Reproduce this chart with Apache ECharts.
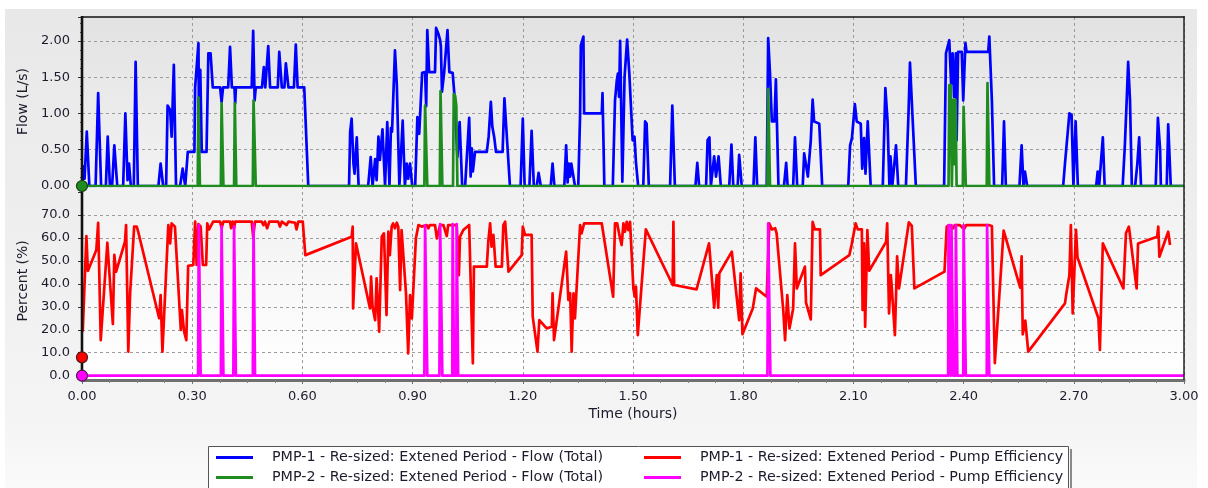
<!DOCTYPE html>
<html>
<head>
<meta charset="utf-8">
<script src="https://cdn.jsdelivr.net/npm/echarts@6.0.0/dist/echarts.min.js"></script>
<style>
  html, body { margin: 0; padding: 0; background: #ffffff; }
  #chart { width: 1208px; height: 488px; }
</style>
</head>
<body>
<div id="chart"></div>
<script>
// Pump flows (L/s) and efficiencies (%) over a 3-hour extended period run.
// Each entry is [time in hours, value].
const pmp1Flow = [[0,0],[0.004,0.27],[0.007,0.10],[0.013,0.75],[0.020,0],[0.037,0],[0.044,1.28],[0.052,0],[0.065,0],[0.070,0.68],[0.076,0],[0.082,0],[0.088,0.56],[0.096,0],[0.112,0],[0.118,1.00],[0.124,0.08],[0.128,0.31],[0.133,0],[0.141,0],[0.146,1.71],[0.152,0],[0.208,0],[0.214,0.31],[0.221,0],[0.229,0],[0.233,1.11],[0.240,1.05],[0.244,0.68],[0.250,1.67],[0.256,0],[0.267,0],[0.274,0.24],[0.281,0],[0.288,0.47],[0.306,0.47],[0.308,1.36],[0.312,1.36],[0.317,1.97],[0.319,0.47],[0.322,1.60],[0.326,0.47],[0.339,0.47],[0.344,1.83],[0.350,1.83],[0.356,1.36],[0.376,1.36],[0.380,1.16],[0.384,1.36],[0.398,1.36],[0.403,1.92],[0.408,1.36],[0.415,1.36],[0.417,1.14],[0.419,1.36],[0.462,1.36],[0.466,2.14],[0.470,1.18],[0.473,1.36],[0.490,1.36],[0.495,1.64],[0.499,1.36],[0.504,1.36],[0.507,1.93],[0.512,1.36],[0.533,1.36],[0.537,1.85],[0.544,1.36],[0.551,1.36],[0.555,1.69],[0.562,1.36],[0.577,1.36],[0.582,1.95],[0.587,1.36],[0.605,1.36],[0.616,0],[0.727,0],[0.730,0.75],[0.734,0.93],[0.739,0.31],[0.742,0.17],[0.748,0.67],[0.753,0],[0.779,0],[0.786,0.40],[0.791,0],[0.798,0.37],[0.802,0.08],[0.807,0.68],[0.811,0.36],[0.818,0.78],[0.825,0],[0.831,0.88],[0.837,0],[0.841,0.80],[0.844,0.75],[0.852,1.87],[0.857,1.40],[0.864,0],[0.868,0],[0.873,0.90],[0.879,0],[0.884,0.31],[0.888,0.10],[0.893,0.31],[0.899,0],[0.907,0],[0.913,0.95],[0.918,0.72],[0.926,1.56],[0.934,1.57],[0.937,1.10],[0.940,2.15],[0.945,1.57],[0.961,1.57],[0.964,2.18],[0.970,2.10],[0.975,2.01],[0.977,1.92],[0.980,1.30],[0.986,1.57],[0.988,1.57],[0.995,2.15],[1.000,1.57],[1.009,1.56],[1.014,1.25],[1.018,1.23],[1.022,0.40],[1.028,0.88],[1.035,0],[1.043,0],[1.054,0.94],[1.058,0.13],[1.061,0.52],[1.064,0.20],[1.070,0.47],[1.102,0.47],[1.107,0.68],[1.113,1.16],[1.117,0.82],[1.122,0.68],[1.127,0.47],[1.145,0.47],[1.150,1.21],[1.155,1.23],[1.165,0],[1.194,0],[1.200,0.93],[1.205,0],[1.218,0],[1.224,0.76],[1.230,0],[1.238,0],[1.243,0.18],[1.249,0],[1.276,0],[1.281,0.31],[1.286,0],[1.313,0],[1.318,0.56],[1.322,0.05],[1.325,0.31],[1.329,0.13],[1.332,0.31],[1.337,0.31],[1.342,0],[1.351,0],[1.356,0.99],[1.358,1.94],[1.365,2.06],[1.367,1.00],[1.415,1.00],[1.417,1.28],[1.422,0],[1.445,0],[1.451,1.18],[1.456,1.46],[1.459,1.55],[1.462,1.23],[1.465,2.00],[1.471,0.06],[1.477,1.50],[1.484,2.02],[1.490,1.55],[1.495,1.53],[1.499,0.63],[1.504,0.68],[1.508,0.33],[1.514,0],[1.528,0],[1.533,0.89],[1.537,0.86],[1.543,0],[1.601,0],[1.607,1.11],[1.614,0],[1.670,0],[1.675,0.32],[1.680,0],[1.699,0],[1.703,0.63],[1.708,0.67],[1.712,0],[1.721,0.41],[1.726,0.13],[1.733,0.41],[1.739,0],[1.762,0],[1.768,0.57],[1.773,0],[1.785,0],[1.789,0.43],[1.796,0],[1.828,0],[1.833,0.67],[1.838,0],[1.864,0],[1.868,2.04],[1.873,1.55],[1.878,0.89],[1.885,0.89],[1.889,1.47],[1.896,0],[1.911,0],[1.917,0.32],[1.921,0],[1.936,0],[1.941,0.67],[1.947,0],[1.962,0],[1.966,0.45],[1.971,0.47],[1.976,0.13],[1.984,0.63],[1.989,1.19],[1.993,0.89],[2.007,0.86],[2.015,0],[2.086,0],[2.091,0.56],[2.096,0.66],[2.104,1.13],[2.109,0.89],[2.120,0.86],[2.124,0.24],[2.129,0.66],[2.133,0.17],[2.139,0.89],[2.147,0],[2.180,0],[2.187,1.35],[2.193,0.89],[2.198,0],[2.201,0.41],[2.206,0],[2.210,0],[2.216,0.56],[2.222,0],[2.243,0],[2.250,1.00],[2.254,1.70],[2.261,0.95],[2.270,0],[2.347,0],[2.352,1.83],[2.357,1.85],[2.361,2.01],[2.366,1.41],[2.370,1.83],[2.374,1.23],[2.379,1.83],[2.381,0.63],[2.385,1.85],[2.395,1.85],[2.399,1.18],[2.405,1.97],[2.408,1.85],[2.467,1.85],[2.470,2.06],[2.477,1.18],[2.483,0],[2.505,0],[2.510,0.89],[2.515,0],[2.552,0],[2.558,0.56],[2.563,0],[2.567,0.20],[2.573,0],[2.671,0],[2.676,0.31],[2.681,0.31],[2.688,1.00],[2.694,0.98],[2.699,0],[2.705,0.89],[2.711,0],[2.761,0],[2.765,0.20],[2.769,0],[2.774,0],[2.779,0.67],[2.784,0],[2.833,0],[2.839,0.56],[2.844,1.18],[2.848,1.71],[2.853,1.18],[2.858,0],[2.867,0],[2.873,0.31],[2.878,0.67],[2.883,0],[2.923,0],[2.929,0.94],[2.935,0.50],[2.937,0],[2.953,0],[2.957,0.85],[2.964,0],[3.000,0]];

const pmp2Flow = [[0,0],[0.315,0],[0.317,1.22],[0.319,1.22],[0.321,0],[0.378,0],[0.380,1.14],[0.383,1.14],[0.385,0],[0.414,0],[0.416,1.14],[0.418,1.14],[0.420,0],[0.465,0],[0.467,1.18],[0.471,1.18],[0.473,0],[0.932,0],[0.934,1.11],[0.938,1.11],[0.940,0],[0.974,0],[0.976,1.31],[0.979,1.31],[0.981,0],[1.010,0],[1.012,1.27],[1.016,1.24],[1.019,1.10],[1.022,0],[1.866,0],[1.868,1.34],[1.871,1.34],[1.873,0],[2.359,0],[2.361,1.39],[2.363,0.40],[2.365,1.39],[2.368,0],[2.370,0],[2.372,1.19],[2.375,0.30],[2.378,1.19],[2.381,0],[2.398,0],[2.400,1.09],[2.404,1.09],[2.406,0],[2.463,0],[2.465,1.42],[2.468,1.42],[2.470,0],[3.000,0]];

const pmp1Eff = [[0.002,19.2],[0.012,60.8],[0.016,45.6],[0.039,54.7],[0.044,66.6],[0.051,15.5],[0.069,57.9],[0.084,22.5],[0.088,52.6],[0.093,45.3],[0.117,58.4],[0.120,65.6],[0.126,10.5],[0.131,35.9],[0.142,64.9],[0.149,64.9],[0.153,62.7],[0.210,25.0],[0.214,35.1],[0.219,10.5],[0.235,65.6],[0.240,57.6],[0.244,66.3],[0.249,66.3],[0.253,64.9],[0.269,19.9],[0.272,28.6],[0.278,19.2],[0.284,15.5],[0.289,47.8],[0.303,48.2],[0.308,67.1],[0.312,48.2],[0.317,66.0],[0.323,64.9],[0.329,48.2],[0.338,48.2],[0.341,66.3],[0.346,63.7],[0.351,64.0],[0.357,67.1],[0.376,67.1],[0.380,64.2],[0.385,67.1],[0.403,67.1],[0.406,64.2],[0.410,67.1],[0.414,64.2],[0.417,67.1],[0.462,67.1],[0.466,60.5],[0.471,67.1],[0.489,67.1],[0.494,65.6],[0.498,67.1],[0.504,64.2],[0.510,67.1],[0.534,67.1],[0.539,64.9],[0.544,67.1],[0.557,65.6],[0.562,67.1],[0.580,66.6],[0.584,63.7],[0.589,67.1],[0.601,67.1],[0.608,52.5],[0.734,60.5],[0.737,64.9],[0.738,29.3],[0.746,57.6],[0.784,29.3],[0.787,43.1],[0.791,30.0],[0.798,24.2],[0.802,42.4],[0.809,19.2],[0.816,60.5],[0.822,62.0],[0.829,26.4],[0.834,62.7],[0.838,52.5],[0.843,64.9],[0.847,66.3],[0.852,64.2],[0.857,66.6],[0.861,64.9],[0.866,37.3],[0.870,63.4],[0.875,62.7],[0.882,35.9],[0.888,9.7],[0.893,35.1],[0.898,25.0],[0.909,59.8],[0.916,65.6],[0.920,65.6],[0.925,64.9],[0.929,65.6],[0.938,65.6],[0.943,64.2],[0.947,65.6],[0.961,65.6],[0.966,59.8],[0.970,60.5],[0.975,65.6],[0.984,65.6],[0.988,64.9],[0.993,60.8],[0.997,65.6],[1.006,65.6],[1.011,64.9],[1.020,65.6],[1.026,43.8],[1.029,60.5],[1.038,63.4],[1.054,65.6],[1.064,5.4],[1.067,47.5],[1.102,47.5],[1.106,58.4],[1.111,66.3],[1.115,56.2],[1.120,61.3],[1.126,47.5],[1.143,47.5],[1.147,65.6],[1.152,67.1],[1.161,45.3],[1.197,52.5],[1.200,64.9],[1.206,61.3],[1.224,61.3],[1.227,25.7],[1.240,10.5],[1.245,24.2],[1.265,20.6],[1.279,21.3],[1.281,35.9],[1.285,15.5],[1.318,54.0],[1.324,33.0],[1.329,35.9],[1.333,10.5],[1.338,35.9],[1.342,25.0],[1.356,65.6],[1.360,62.0],[1.367,66.3],[1.415,66.3],[1.446,34.4],[1.451,66.3],[1.457,66.3],[1.463,61.2],[1.469,56.9],[1.474,66.3],[1.478,62.7],[1.483,67.0],[1.487,63.4],[1.492,67.0],[1.496,66.3],[1.501,38.0],[1.505,34.4],[1.508,38.8],[1.513,17.7],[1.535,63.7],[1.608,39.5],[1.610,67.0],[1.612,39.5],[1.673,37.6],[1.707,57.6],[1.721,29.6],[1.728,43.8],[1.732,29.6],[1.735,44.6],[1.769,54.0],[1.789,24.2],[1.793,44.6],[1.798,18.1],[1.826,29.3],[1.835,38.0],[1.864,34.4],[1.871,66.3],[1.878,63.7],[1.887,64.2],[1.891,62.0],[1.909,28.6],[1.914,15.5],[1.920,35.1],[1.926,20.6],[1.936,29.3],[1.941,57.6],[1.946,38.0],[1.968,47.5],[1.971,31.8],[1.984,24.5],[1.989,67.0],[1.995,63.7],[2.009,63.7],[2.011,43.8],[2.089,52.5],[2.095,56.9],[2.100,57.6],[2.106,66.3],[2.112,63.7],[2.123,63.7],[2.125,28.6],[2.129,57.6],[2.132,21.3],[2.138,63.4],[2.143,45.7],[2.189,58.3],[2.192,66.3],[2.197,27.1],[2.202,43.8],[2.204,39.5],[2.213,17.7],[2.219,52.0],[2.224,38.0],[2.251,66.8],[2.259,65.2],[2.266,38.0],[2.348,45.3],[2.354,64.9],[2.361,65.6],[2.366,65.0],[2.372,64.2],[2.376,65.6],[2.390,65.6],[2.395,65.2],[2.401,63.7],[2.407,65.6],[2.468,65.6],[2.477,65.2],[2.485,5.5],[2.509,63.2],[2.554,38.3],[2.558,52.0],[2.561,18.0],[2.568,24.0],[2.576,10.5],[2.676,31.5],[2.679,35.0],[2.688,43.8],[2.692,65.6],[2.697,27.1],[2.706,63.5],[2.710,51.5],[2.767,25.0],[2.771,11.2],[2.779,57.6],[2.835,38.0],[2.842,62.0],[2.850,64.9],[2.871,38.0],[2.875,57.6],[2.927,60.5],[2.930,64.9],[2.933,51.8],[2.957,62.7],[2.962,56.9]];

const pmp2Eff = [[0,0],[0.316,0],[0.318,65.6],[0.321,65.6],[0.323,0],[0.378,0],[0.380,65.0],[0.383,65.0],[0.385,0],[0.412,0],[0.414,65.0],[0.417,65.0],[0.419,0],[0.465,0],[0.467,66.0],[0.469,66.0],[0.471,0],[0.932,0],[0.934,65.5],[0.938,65.5],[0.940,0],[0.973,0],[0.975,66.0],[0.979,66.0],[0.981,0],[1.008,0],[1.009,66.0],[1.012,66.0],[1.013,0],[1.019,0],[1.020,66.0],[1.023,66.0],[1.024,0],[1.866,0],[1.868,66.3],[1.872,66.3],[1.874,0],[2.358,0],[2.359,65.6],[2.364,65.6],[2.365,0],[2.366,0],[2.367,65.6],[2.371,65.6],[2.372,0],[2.378,0],[2.379,65.6],[2.382,65.6],[2.383,0],[2.399,0],[2.400,65.6],[2.405,65.6],[2.406,0],[2.463,0],[2.464,65.6],[2.469,65.6],[2.470,0],[3.000,0]];

// Handle markers sitting on the left axis (value at time 0)
const flowHandle = [[0, 0]];
const effHandle1 = [[0, 8.0]];
const effHandle2 = [[0, 0]];

const seriesNames = [
  'PMP-1 - Re-sized: Extened Period - Flow (Total)',
  'PMP-2 - Re-sized: Extened Period - Flow (Total)',
  'PMP-1 - Re-sized: Extened Period - Pump Efficiency',
  'PMP-2 - Re-sized: Extened Period - Pump Efficiency'
];
const seriesColors = ['#0000ff', '#1e8c1e', '#ff0000', '#ff00ff'];

const TXT = '#1c1c2c';
const FONT = 'DejaVu Sans';
const dashed = { color: '#9c9c9c', type: [3, 3], width: 1 };

const chart = echarts.init(document.getElementById('chart'), null, { renderer: 'canvas' });

function lineSeries(i, data, xi, yi) {
  return {
    name: seriesNames[i], type: 'line', data: data,
    xAxisIndex: xi, yAxisIndex: yi,
    color: seriesColors[i], showSymbol: false, symbol: 'none',
    lineStyle: { width: 2.7, color: seriesColors[i], join: 'round' },
    emphasis: { disabled: true }
  };
}
function handle(data, xi, yi, fill, border) {
  return {
    type: 'scatter', data: data, xAxisIndex: xi, yAxisIndex: yi,
    symbolSize: 11, clip: false, z: 20,
    itemStyle: { color: fill, borderColor: border, borderWidth: 1.2, opacity: 1 },
    emphasis: { disabled: true }
  };
}

const legendBase = {
  orient: 'vertical', icon: 'rect', itemWidth: 37, itemHeight: 3,
  itemGap: 4, padding: 0, selectedMode: false,
  textStyle: { fontFamily: FONT, fontSize: 14.3, color: TXT, lineHeight: 16, padding: [0, 0, 0, 14] }
};

chart.setOption({
  animation: false,
  backgroundColor: '#ffffff',
  textStyle: { fontFamily: FONT },
  graphic: [
    { type: 'rect', z: -10, silent: true, shape: { x: 5, y: 9, width: 1192, height: 479 },
      style: { fill: { type: 'linear', x: 0, y: 0, x2: 0, y2: 1,
        colorStops: [{ offset: 0, color: '#e8e8e8' }, { offset: 0.85, color: '#f4f4f4' }, { offset: 1, color: '#fafafa' }] } } },
    { type: 'rect', z: -5, silent: true, shape: { x: 82, y: 375, width: 1102, height: 5 }, style: { fill: '#ffffff' } },
    { type: 'line', z: 10, silent: true, shape: { x1: 82, y1: 16, x2: 82, y2: 381 }, style: { stroke: '#111111', lineWidth: 2.6 } },
    { type: 'line', z: 10, silent: true, shape: { x1: 1184, y1: 16, x2: 1184, y2: 380 }, style: { stroke: '#222222', lineWidth: 1.5 } },
    { type: 'rect', z: 1, silent: true, shape: { x: 208.5, y: 446.5, width: 860, height: 42 },
      style: { fill: '#ffffff', stroke: '#555555', lineWidth: 1 } },
    { type: 'line', z: 1, silent: true, shape: { x1: 1071, y1: 449, x2: 1071, y2: 488 }, style: { stroke: '#8a8a8a', lineWidth: 2 } }
  ],
  grid: [
    { left: 82, right: 24, top: 17, height: 169, show: true, borderWidth: 0,
      backgroundColor: { type: 'linear', x: 0, y: 0, x2: 0, y2: 1,
        colorStops: [{ offset: 0, color: '#e2e2e2' }, { offset: 1, color: '#f3f3f3' }] } },
    { left: 82, right: 24, top: 186, height: 189.7, show: true, borderWidth: 0,
      backgroundColor: { type: 'linear', x: 0, y: 0, x2: 0, y2: 1,
        colorStops: [{ offset: 0, color: '#f0f0f0' }, { offset: 1, color: '#ffffff' }] } }
  ],
  xAxis: [
    { gridIndex: 0, type: 'value', min: 0, max: 3, interval: 0.3, position: 'top',
      axisLine: { show: true, onZero: false, lineStyle: { color: '#111111', width: 1.5 } },
      axisTick: { show: false }, axisLabel: { show: false },
      splitLine: { show: true, lineStyle: dashed } },
    { gridIndex: 1, type: 'value', min: 0, max: 3, interval: 0.3, offset: 4.3,
      name: 'Time (hours)', nameLocation: 'middle', nameGap: 27,
      nameTextStyle: { fontFamily: FONT, fontSize: 14, color: TXT },
      axisLine: { show: true, onZero: false, lineStyle: { color: '#707070', width: 3 } },
      axisTick: { show: true, length: 4, lineStyle: { color: '#707070', width: 1 } },
      minorTick: { show: true, splitNumber: 4, length: 3, lineStyle: { color: '#808080', width: 1 } },
      axisLabel: { margin: 10, color: TXT, fontSize: 13, fontFamily: FONT, formatter: v => v.toFixed(2) },
      splitLine: { show: true, lineStyle: dashed } }
  ],
  yAxis: [
    { gridIndex: 0, type: 'value', min: 0, max: 2.33, interval: 0.5,
      name: 'Flow (L/s)', nameLocation: 'middle', nameGap: 51,
      nameTextStyle: { fontFamily: FONT, fontSize: 14, color: TXT },
      axisLine: { show: false },
      axisTick: { show: true, length: 4, lineStyle: { color: '#333333' } },
      minorTick: { show: true, splitNumber: 4, length: 2, lineStyle: { color: '#555555' } },
      axisLabel: { margin: 12, color: TXT, fontSize: 13, fontFamily: FONT,
        formatter: v => (v <= 2.01 ? v.toFixed(2) : '') },
      splitLine: { show: true, showMaxLine: false, lineStyle: dashed } },
    { gridIndex: 1, type: 'value', min: 0, max: 82.6, interval: 10,
      name: 'Percent (%)', nameLocation: 'middle', nameGap: 51,
      nameTextStyle: { fontFamily: FONT, fontSize: 14, color: TXT },
      axisLine: { show: false },
      axisTick: { show: true, length: 4, lineStyle: { color: '#333333' } },
      axisLabel: { margin: 12, color: TXT, fontSize: 13, fontFamily: FONT,
        formatter: v => (v <= 70.5 ? v.toFixed(1) : '') },
      splitLine: { show: true, lineStyle: { type: [3, 3], width: 1,
        color: ['#9c9c9c', '#9c9c9c', '#9c9c9c', '#9c9c9c', '#9c9c9c', '#9c9c9c', '#9c9c9c', '#9c9c9c', 'rgba(0,0,0,0)', 'rgba(0,0,0,0)'] } } }
  ],
  legend: [
    Object.assign({}, legendBase, { left: 216, top: 449.5, data: [seriesNames[0], seriesNames[1]] }),
    Object.assign({}, legendBase, { left: 644, top: 449.5, data: [seriesNames[2], seriesNames[3]] })
  ],
  series: [
    lineSeries(0, pmp1Flow, 0, 0),
    lineSeries(1, pmp2Flow, 0, 0),
    lineSeries(2, pmp1Eff, 1, 1),
    lineSeries(3, pmp2Eff, 1, 1),
    handle(flowHandle, 0, 0, '#1e8c1e', '#1a3a1a'),
    handle(effHandle1, 1, 1, '#ff0000', '#4a1a1a'),
    handle(effHandle2, 1, 1, '#ff00ff', '#4a1a4a')
  ]
});
</script>
</body>
</html>
